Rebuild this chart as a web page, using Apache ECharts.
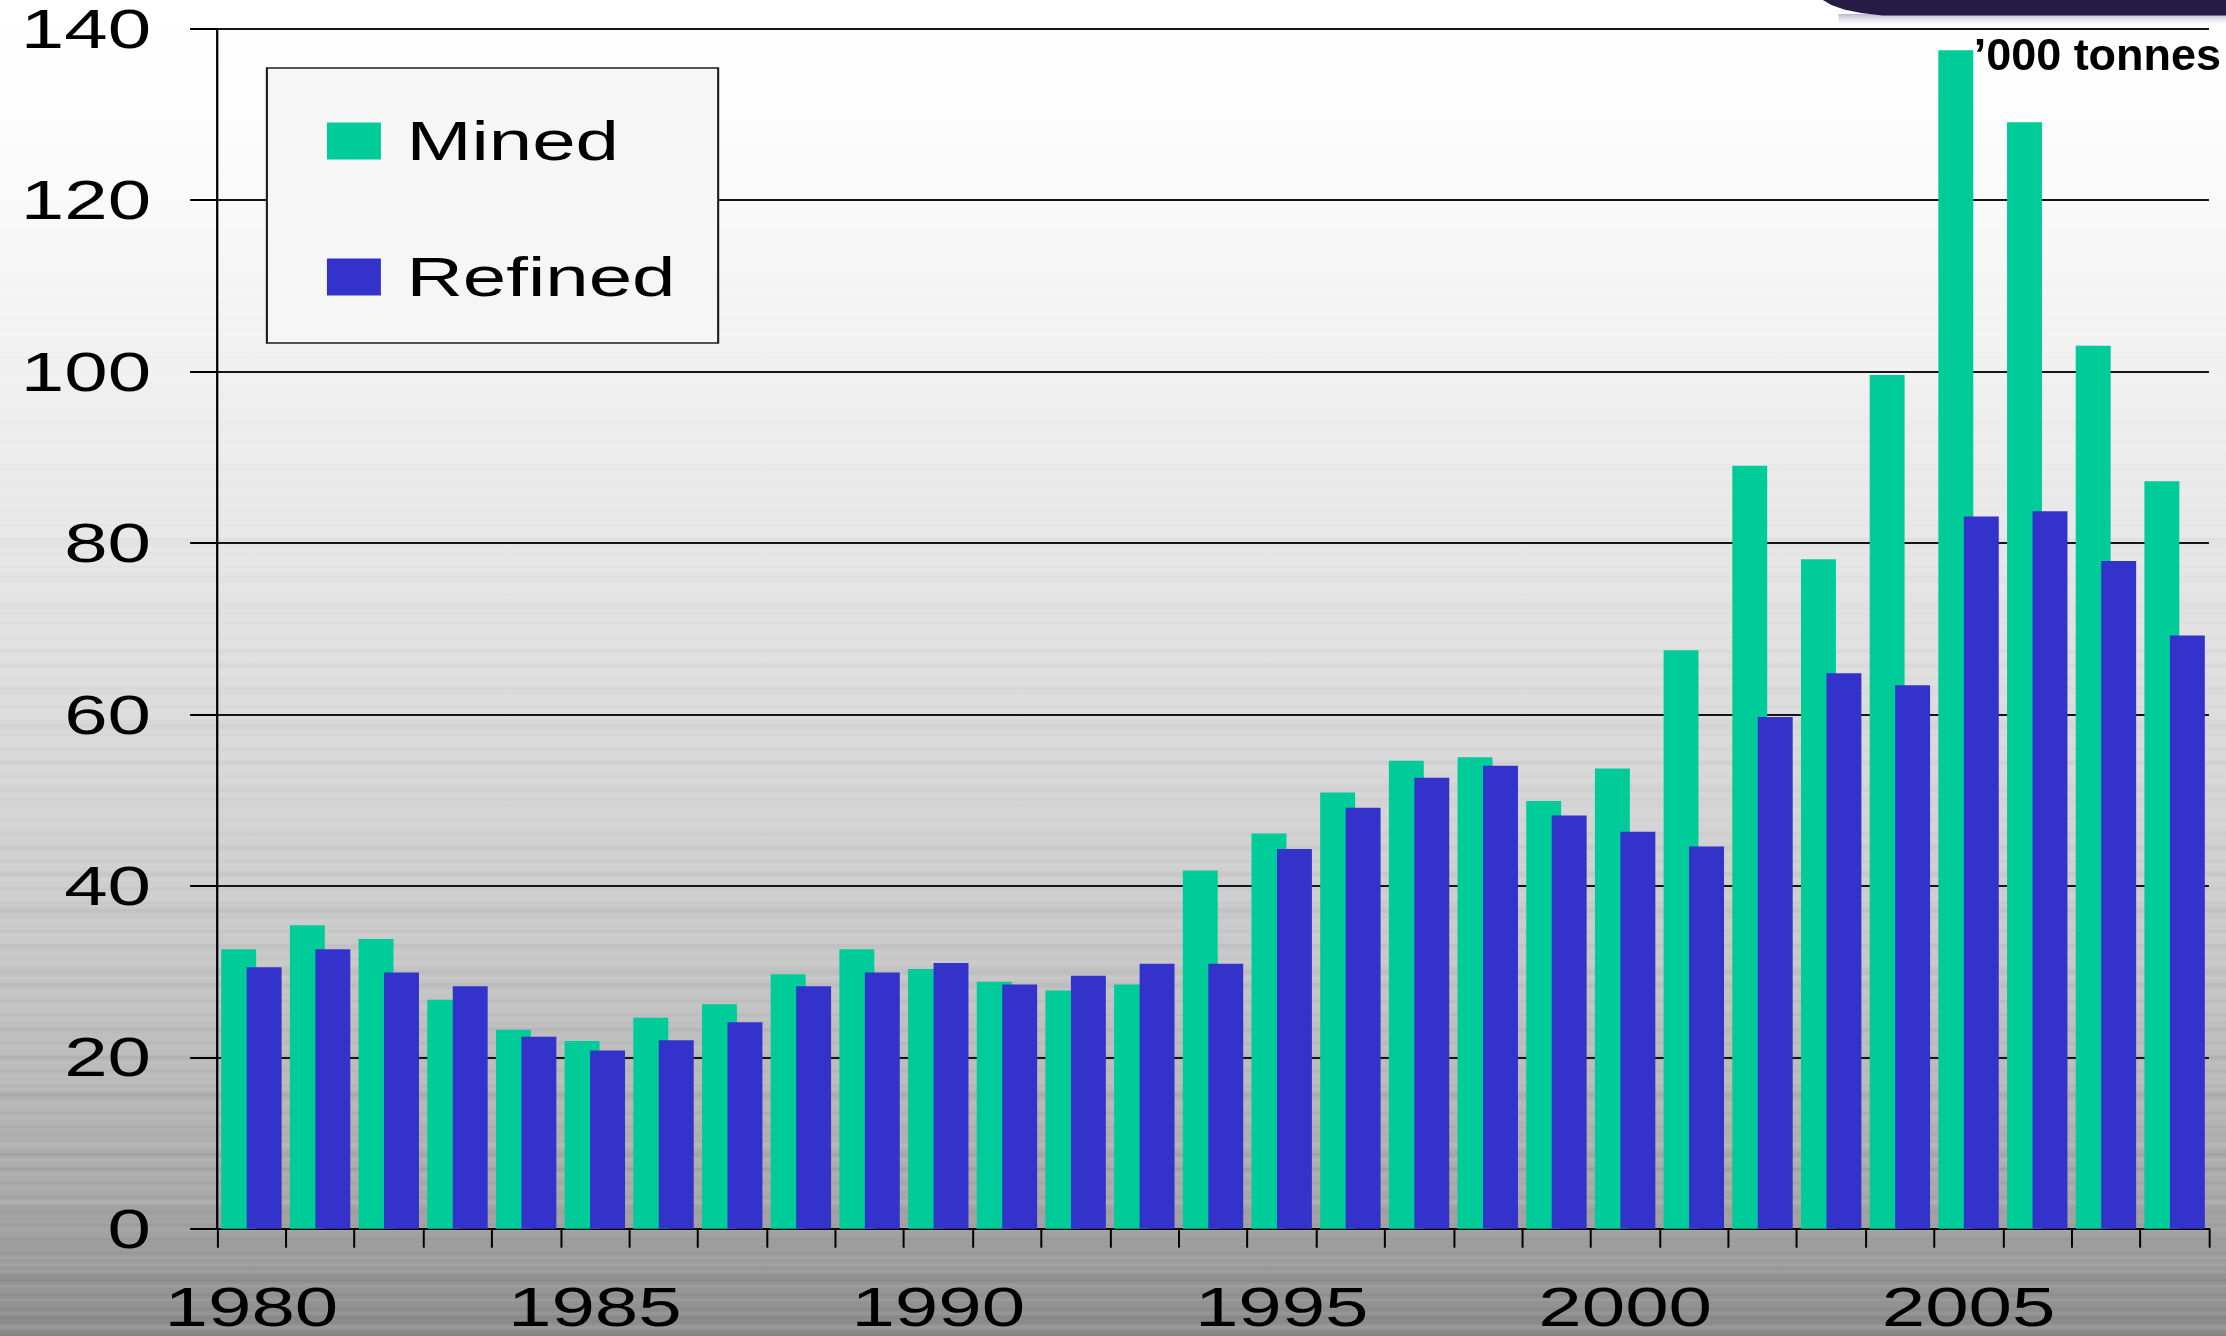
<!DOCTYPE html>
<html>
<head>
<meta charset="utf-8">
<script src="https://cdn.jsdelivr.net/npm/echarts@6/dist/echarts.min.js"></script>
<style>
  html, body { margin: 0; padding: 0; width: 2226px; height: 1336px; overflow: hidden; }
  body {
    position: relative;
    background: linear-gradient(180deg, #ffffff 0%, #fbfbfb 12%, #f1f1f1 28%, #e4e4e4 45%, #d6d6d6 60%, #c8c8c8 72%, #b8b8b8 82%, #a8a8a8 90%, #9a9a9a 95%, #8a8a8a 100%);
  }
  /* brushed-metal streaks, strongest toward the bottom */
  body::before {
    content: ''; position: absolute; left: 0; top: 0; width: 2226px; height: 1336px;
    background:
      repeating-linear-gradient(180deg, rgba(0,0,0,0) 0px, rgba(0,0,0,0) 5px, rgba(60,60,60,0.07) 7px, rgba(0,0,0,0) 9px, rgba(255,255,255,0.08) 12px, rgba(0,0,0,0) 14px),
      repeating-linear-gradient(180deg, rgba(0,0,0,0) 0px, rgba(0,0,0,0) 19px, rgba(50,50,50,0.07) 22px, rgba(0,0,0,0) 27px, rgba(0,0,0,0) 37px),
      repeating-linear-gradient(180deg, rgba(0,0,0,0) 0px, rgba(0,0,0,0) 41px, rgba(255,255,255,0.09) 45px, rgba(0,0,0,0) 50px, rgba(40,40,40,0.06) 56px, rgba(0,0,0,0) 61px);
    -webkit-mask-image: linear-gradient(180deg, rgba(0,0,0,0) 15%, rgba(0,0,0,0.45) 55%, rgba(0,0,0,1) 90%);
    mask-image: linear-gradient(180deg, rgba(0,0,0,0) 15%, rgba(0,0,0,0.45) 55%, rgba(0,0,0,1) 90%);
  }
  #chart {
    position: absolute; left: 0; top: 0;
    width: 1568px; height: 1336px;
    transform: scaleX(1.41964); transform-origin: 0 0;
  }
</style>
</head>
<body>
<div id="chart"></div>
<script>
// Copper production, '000 tonnes
const years = ['1980','1981','1982','1983','1984','1985','1986','1987','1988','1989',
               '1990','1991','1992','1993','1994','1995','1996','1997','1998','1999',
               '2000','2001','2002','2003','2004','2005','2006','2007','2008'];
const mined = [32.6, 35.4, 33.8, 26.7, 23.2, 21.9, 24.6, 26.2, 29.7, 32.6,
               30.3, 28.8, 27.8, 28.5, 41.8, 46.1, 50.9, 54.6, 55.0, 49.9,
               53.7, 67.5, 89.0, 78.1, 99.6, 137.5, 129.1, 103.0, 87.2];
const refined = [30.5, 32.6, 29.9, 28.3, 22.4, 20.8, 22.0, 24.1, 28.3, 29.9,
                 31.0, 28.5, 29.5, 30.9, 30.9, 44.3, 49.1, 52.6, 54.0, 48.2,
                 46.3, 44.6, 59.7, 64.8, 63.4, 83.1, 83.7, 77.9, 69.2];
const seriesNames = ['Mined', 'Refined'];
const unitLabel = '\u2019000 tonnes';

// the chart is laid out in a narrower box and widened by the CSS transform
const SX = 1.41964;
const FONT = "'Liberation Sans', Arial, Helvetica, sans-serif";

const chart = echarts.init(document.getElementById('chart'), null, { renderer: 'svg' });

chart.setOption({
  animation: false,
  backgroundColor: 'transparent',
  grid: { left: 152.9, right: 12, top: 28.7, bottom: 107.3, containLabel: false },
  legend: {
    orient: 'vertical',
    left: 188, top: 68,
    padding: [45.5, 30, 38.5, 42.3],
    itemGap: 81,
    itemWidth: 38, itemHeight: 37,
    icon: 'rect',
    selectedMode: false,
    backgroundColor: '#f6f6f6',
    borderColor: '#1e1e1e',
    borderWidth: 1.5,
    textStyle: { fontFamily: FONT, fontSize: 55, lineHeight: 55, color: '#000', padding: [0, 0, 0, 13] },
    data: seriesNames
  },
  xAxis: {
    type: 'category',
    data: years,
    boundaryGap: true,
    axisLine: { show: true, lineStyle: { color: '#000', width: 2 } },
    axisTick: { show: true, interval: 0, length: 19, lineStyle: { color: '#000', width: 1.4 } },
    axisLabel: { interval: 4, margin: 56.5, fontFamily: FONT, fontSize: 55, lineHeight: 44, color: '#000' },
    splitLine: { show: false }
  },
  yAxis: {
    type: 'value',
    min: 0, max: 140, interval: 20,
    axisLine: { show: true, lineStyle: { color: '#000', width: 1.6 } },
    axisTick: { show: true, length: 19, lineStyle: { color: '#000', width: 2 } },
    axisLabel: { margin: 46.5, fontFamily: FONT, fontSize: 55, lineHeight: 44, color: '#000' },
    splitLine: { show: true, lineStyle: { color: '#151515', width: 2 } }
  },
  series: [
    {
      name: seriesNames[0], type: 'bar', data: mined,
      barWidth: 24.6, barGap: '-27%',
      itemStyle: { color: '#00CC99' }
    },
    {
      name: seriesNames[1], type: 'bar', data: refined,
      barWidth: 24.6, barGap: '-27%',
      itemStyle: { color: '#3333CC' }
    }
  ],
  graphic: [
    {
      // header band in the top-right corner
      type: 'polygon', z: 10,
      shape: { points: [[1284, 0], [1290, 5], [1299, 9.5], [1311, 13], [1326, 15.5], [1568, 15.5], [1568, 0]] },
      style: { fill: '#261b45' }
    },
    {
      type: 'rect', z: 9,
      shape: { x: 1295, y: 14, width: 273, height: 11 },
      style: {
        fill: {
          type: 'linear', x: 0, y: 0, x2: 0, y2: 1,
          colorStops: [
            { offset: 0, color: 'rgba(120,128,170,0.55)' },
            { offset: 1, color: 'rgba(200,205,225,0)' }
          ]
        }
      }
    },
    {
      // unit note, kept at its natural proportions
      type: 'text', z: 20,
      x: 2221 / SX, y: 54,
      scaleX: 1 / SX, scaleY: 1,
      style: {
        text: unitLabel,
        fill: '#000',
        font: "bold 45px " + FONT,
        textAlign: 'right',
        textVerticalAlign: 'middle'
      }
    }
  ]
});
</script>
</body>
</html>
